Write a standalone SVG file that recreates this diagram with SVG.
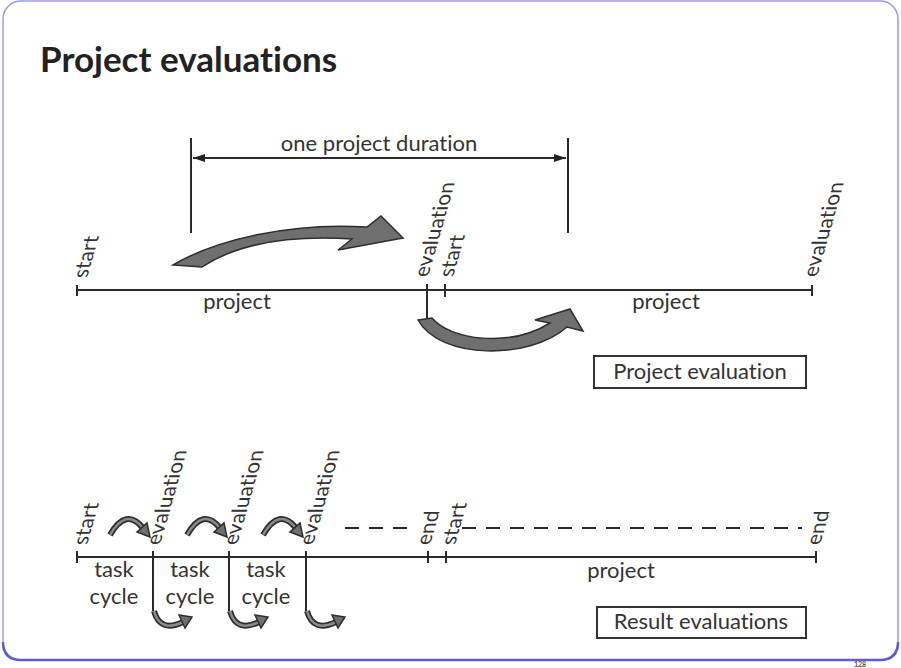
<svg xmlns="http://www.w3.org/2000/svg" xmlns:xlink="http://www.w3.org/1999/xlink" width="901" height="668" viewBox="0 0 901 668">
<style>
text{font-variant-ligatures:none;font-feature-settings:"liga" 0,"clig" 0}
.t{font-family:Lato,"Open Sans","Liberation Sans",sans-serif;fill:#333;font-size:22px}
.lbl{font-family:Lato,"Open Sans","Liberation Sans",sans-serif;fill:#333;font-size:21px}
.ax{stroke:#2a2a2a;stroke-width:2;fill:none}
.tk{stroke:#2a2a2a;stroke-width:2;fill:none}
.big{fill:#6f6f6f;stroke:#2e2e2e;stroke-width:1.5;stroke-linejoin:miter}
.box{fill:#fff;stroke:#333;stroke-width:2}
.dash{stroke:#2a2a2a;stroke-width:2;stroke-dasharray:14 10;fill:none}
.so{fill:none;stroke:#2e2e2e;stroke-width:6}
.si{fill:none;stroke:#8a8a8a;stroke-width:2.5}
.sh{fill:#6f6f6f;stroke:#2e2e2e;stroke-width:1.5}
</style>
<defs>
<marker id="ah" viewBox="0 0 12 8" refX="12" refY="4" markerWidth="12" markerHeight="8" markerUnits="userSpaceOnUse" orient="auto-start-reverse">
<path d="M0,0 L12,4 L0,8 z" fill="#222"/>
</marker>
<g id="sa-up">
<path class="so" d="M0,0 Q16,-28 33,-7"/>
<path class="si" d="M0,0 Q16,-28 33,-7"/>
<path class="sh" d="M27,-3 L40,2 L37,-12 z"/>
</g>
<g id="sa-down">
<path class="so" d="M0,0 Q6,22 29,11"/>
<path class="si" d="M0,0 Q6,22 29,11"/>
<path class="sh" d="M25,4 L38,6 L31,17 z"/>
</g>
</defs>

<g id="frame">
<rect x="3" y="1" width="895" height="659" rx="18" fill="#fff" stroke="#9a9aec" stroke-width="1.5"/>
<path d="M3,642 Q3,660 21,660 L880,660 Q898,660 898,642" fill="none" stroke="#5c5cd8" stroke-width="2.5"/>
</g>

<g id="title">
<text x="40" y="72" style="font-family:Lato,'Open Sans','Liberation Sans',sans-serif;font-weight:bold;font-size:35px;fill:#222">Project evaluations</text>
</g>

<g id="duration">
<line class="tk" x1="191" y1="138" x2="191" y2="233"/>
<line class="tk" x1="568" y1="138" x2="568" y2="233"/>
<text class="t" x="379" y="151" text-anchor="middle">one project duration</text>
</g>

<g id="top-timeline">
<line class="ax" x1="77" y1="290" x2="813" y2="290"/>
<line class="tk" x1="77" y1="285" x2="77" y2="296"/>
<line class="tk" x1="427" y1="284" x2="427" y2="318"/>
<line class="tk" x1="445" y1="284" x2="445" y2="297"/>
<line class="tk" x1="812" y1="285" x2="812" y2="296"/>
<text class="lbl" transform="translate(87,278) skewX(-16) rotate(-90)">start</text>
<text class="lbl" transform="translate(428,277) skewX(-16) rotate(-90)">evaluation</text>
<text class="lbl" transform="translate(453,277) skewX(-16) rotate(-90)">start</text>
<text class="lbl" transform="translate(817,277) skewX(-16) rotate(-90)">evaluation</text>
<text class="t" x="237" y="309" text-anchor="middle">project</text>
<text class="t" x="666" y="309" text-anchor="middle">project</text>
</g>

<g id="project-evaluation">
<rect class="box" x="594" y="356" width="212" height="32"/>
<text class="t" x="700" y="379" text-anchor="middle">Project evaluation</text>
</g>

<g id="bottom-timeline">
<line class="ax" x1="77" y1="557" x2="816" y2="557"/>
<line class="tk" x1="77" y1="551" x2="77" y2="563"/>
<line class="tk" x1="153" y1="551" x2="153" y2="611"/>
<line class="tk" x1="229" y1="551" x2="229" y2="611"/>
<line class="tk" x1="306" y1="551" x2="306" y2="611"/>
<line class="tk" x1="428" y1="551" x2="428" y2="563"/>
<line class="tk" x1="446" y1="551" x2="446" y2="563"/>
<line class="tk" x1="816" y1="551" x2="816" y2="563"/>
<line class="dash" x1="345" y1="528" x2="412" y2="528"/>
<line class="dash" x1="462" y1="528" x2="802" y2="528"/>
<text class="lbl" transform="translate(87,545) skewX(-16) rotate(-90)">start</text>
<text class="lbl" transform="translate(160,545) skewX(-16) rotate(-90)">evaluation</text>
<text class="lbl" transform="translate(237,545) skewX(-16) rotate(-90)">evaluation</text>
<text class="lbl" transform="translate(313,545) skewX(-16) rotate(-90)">evaluation</text>
<text class="lbl" transform="translate(430,545) skewX(-16) rotate(-90)">end</text>
<text class="lbl" transform="translate(455,545) skewX(-16) rotate(-90)">start</text>
<text class="lbl" transform="translate(820,545) skewX(-16) rotate(-90)">end</text>
<text class="t" x="114" y="577" text-anchor="middle">task</text>
<text class="t" x="114" y="604" text-anchor="middle">cycle</text>
<text class="t" x="190" y="577" text-anchor="middle">task</text>
<text class="t" x="190" y="604" text-anchor="middle">cycle</text>
<text class="t" x="266" y="577" text-anchor="middle">task</text>
<text class="t" x="266" y="604" text-anchor="middle">cycle</text>
<text class="t" x="621" y="578" text-anchor="middle">project</text>
</g>

<g id="result-evaluations">
<rect class="box" x="597" y="607" width="209" height="31"/>
<text class="t" x="701" y="629" text-anchor="middle">Result evaluations</text>
</g>

<g id="connectors">
<line class="tk" x1="193" y1="158" x2="566" y2="158" marker-start="url(#ah)" marker-end="url(#ah)"/>
<path class="big" d="M173,265 C215,240 290,222 367,227 L381,216 L403,238 L338,250 L352,239 C285,235 235,245 202,267 Z"/>
<path class="big" d="M418,320 L432,318 C450,340 510,348 550,323 L535,320 L570,309 L583,331 L567,327 C530,360 440,360 418,320 Z"/>
<use xlink:href="#sa-up" x="110" y="535"/>
<use xlink:href="#sa-up" x="187" y="535"/>
<use xlink:href="#sa-up" x="263" y="535"/>
<use xlink:href="#sa-down" x="154" y="611"/>
<use xlink:href="#sa-down" x="230" y="611"/>
<use xlink:href="#sa-down" x="307" y="611"/>
</g>

<g id="page-number">
<text x="860" y="667" text-anchor="middle" style="font-family:Lato,'Liberation Sans',sans-serif;font-size:7px;font-weight:bold;fill:#555">128</text>
</g>
</svg>
